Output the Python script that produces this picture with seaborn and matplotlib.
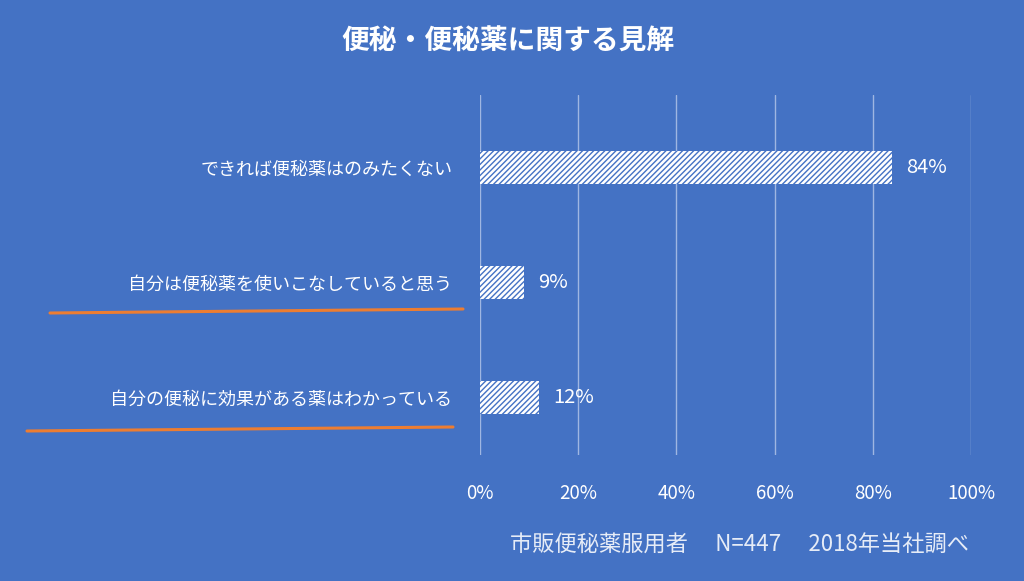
import numpy as np
import pandas as pd
import seaborn as sns
import matplotlib.pyplot as plt
from matplotlib.lines import Line2D

# data
labels = ['できれば便秘薬はのみたくない',
          '自分は便秘薬を使いこなしていると思う',
          '自分の便秘に効果がある薬はわかっている']
values = [84, 9, 12]
xticks = [0, 20, 40, 60, 80, 100]

title = '便秘・便秘薬に関する見解'
footer = '市販便秘薬服用者　 N=447　 2018年当社調べ'

bg = '#4472C4'

sns.set_style('white', {'axes.facecolor': bg, 'figure.facecolor': bg})
plt.rcParams['font.family'] = ['Noto Sans CJK JP', 'DejaVu Sans']
plt.rcParams['hatch.linewidth'] = 1.0

df = pd.DataFrame({'label': labels, 'value': values})

fig = plt.figure(figsize=(10.24, 5.81), dpi=100)
ax = fig.add_axes([480 / 1024, 1 - 455 / 581, (971 - 480) / 1024, (455 - 95) / 581])

sns.barplot(data=df, y='label', x='value', orient='h', color='white',
            width=0.28, ax=ax, edgecolor=bg, linewidth=0)
for p in ax.patches:
    p.set_hatch('//////')
    p.set_edgecolor(bg)

ax.bar_label(ax.containers[0], fmt='%d%%', padding=10, color='white', fontsize=14.5)

ax.set_xlim(0, 100)
ax.set_ylim(2.5, -0.63)
ax.set_xticks(xticks)
ax.set_xticklabels([f'{t}%' for t in xticks])
ax.xaxis.grid(True, color='#9fb6e2', linewidth=1)
ax.set_axisbelow(True)
ax.tick_params(axis='x', colors='white', labelsize=13.5, pad=20, length=0)
ax.tick_params(axis='y', colors='white', labelsize=13, pad=20, length=0)
ax.set_xlabel('')
ax.set_ylabel('')
for s in ax.spines.values():
    s.set_visible(False)

# orange underlines under the two lower labels
fig.add_artist(Line2D([50 / 1024, 463 / 1024], [1 - 313 / 581, 1 - 309 / 581],
                      color='#ED7D31', lw=2.2))
fig.add_artist(Line2D([27 / 1024, 453 / 1024], [1 - 431 / 581, 1 - 427 / 581],
                      color='#ED7D31', lw=2.2))

fig.text(508 / 1024, 1 - 42 / 581, title, ha='center', va='center',
         color='white', fontsize=20, fontweight='bold')
fig.text(740 / 1024, 1 - 545 / 581, footer, ha='center', va='center',
         color='#e6ecf7', fontsize=16)

fig.savefig('out.png', dpi=100, facecolor=bg)
